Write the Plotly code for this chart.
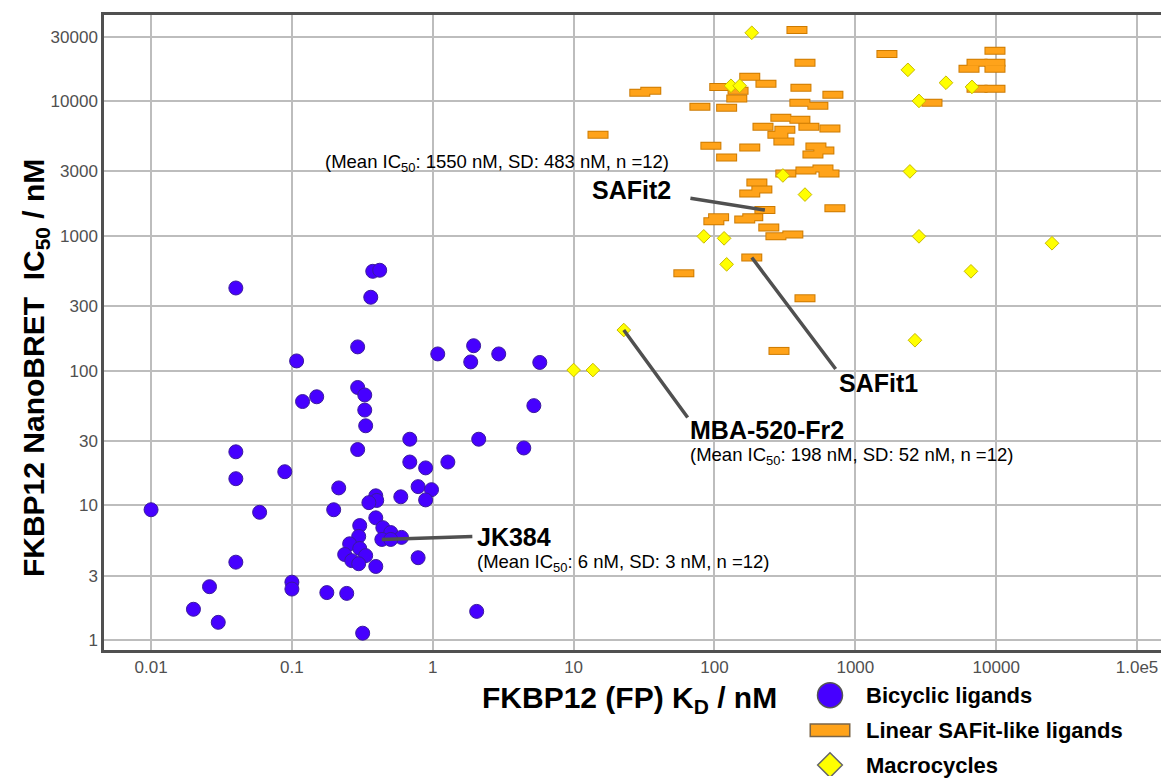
import numpy as np
import plotly.graph_objects as go

# ---------------- data ----------------
bicyclic_kd = [0.010, 0.040, 0.040, 0.040, 0.040, 0.026, 0.020, 0.030, 0.059, 0.089,
               0.100, 0.100, 0.108, 0.119, 0.150, 0.198, 0.215, 0.177, 0.245, 0.293,
               0.293, 0.329, 0.329, 0.334, 0.293, 0.318, 0.363, 0.375, 0.420, 0.687,
               2.12, 0.687, 0.89, 1.28, 0.787, 0.98, 0.89, 0.593, 0.394, 0.40,
               0.352, 0.394, 0.303, 0.442, 0.503, 0.60, 0.435, 0.503, 0.298, 0.257,
               0.303, 0.237, 0.334, 0.266, 0.298, 0.394, 0.787, 2.05, 1.085, 1.95,
               1.86, 2.94, 5.75, 5.22, 4.43]
bicyclic_ic50 = [9.3, 410, 25, 15.8, 3.8, 2.5, 1.7, 1.36, 8.9, 17.8,
                 2.7, 2.4, 118, 59, 64, 9.3, 13.5, 2.26, 2.23, 150,
                 75, 66, 51, 39, 26, 1.13, 350, 545, 555, 31,
                 31, 21, 19, 21, 13.8, 13.1, 11, 11.6, 11.8, 10.9,
                 10.5, 8.1, 7.1, 6.85, 6.3, 5.8, 5.6, 5.6, 5.9, 5.2,
                 4.8, 4.33, 4.25, 3.9, 3.7, 3.53, 4.1, 1.64, 133, 153,
                 116, 133, 115, 55, 26.7]

linear_kd = [385, 439, 178, 232, 109, 35.3, 29.5, 147, 144, 411,
             693, 78.8, 122, 404, 542, 14.9, 296, 404, 221, 316,
             468, 660, 282, 311, 94.3, 178, 525, 598, 500, 122,
             321, 446, 589, 650, 200, 217, 178, 228, 716, 107,
             99, 187, 164, 243, 273, 360, 184, 60.6, 439, 287,
             1676, 9800, 7310, 9800, 6410, 9800, 7310, 9800, 3500]
linear_ic50 = [33600, 19200, 15100, 13400, 12700, 11900, 11500, 11900, 10400, 12500,
               11100, 9060, 8910, 9700, 9210, 5620, 7510, 7260, 6440, 6120,
               6440, 6230, 5620, 4990, 4660, 4510, 4590, 4280, 4000, 3800,
               2900, 3050, 3150, 2900, 2480, 2200, 2060, 1550, 1600, 1370,
               1280, 1370, 1320, 1150, 990, 1020, 690, 527, 344, 140,
               22300, 23500, 19200, 19200, 17300, 17300, 12300, 12300, 9700]

macro_kd = [184, 131, 151, 306, 439, 84, 117, 122, 22.7, 10,
            13.7, 2360, 4400, 6730, 2830, 2440, 2830, 24900, 6620, 2650]
macro_ic50 = [32000, 12950, 12950, 2800, 2020, 990, 957, 614, 200, 101,
              101, 17000, 13640, 12700, 10000, 3000, 990, 880, 545, 168]

series_names = ["Bicyclic ligands", "Linear SAFit-like ligands", "Macrocycles"]

x_tickvals = [0.01, 0.1, 1, 10, 100, 1000, 10000, 100000]
x_ticktext = ["0.01", "0.1", "1", "10", "100", "1000", "10000", "1.0e5"]
y_tickvals = [1, 3, 10, 30, 100, 300, 1000, 3000, 10000, 30000]
y_ticktext = ["1", "3", "10", "30", "100", "300", "1000", "3000", "10000", "30000"]

# highlighted compounds
hl_names = ["SAFit2", "SAFit1", "MBA-520-Fr2", "JK384"]
hl_series = ["linear", "linear", "macro", "bicyclic"]
hl_index = [37, 46, 8, 46]
mean_names = ["SAFit2", "MBA-520-Fr2", "JK384"]
mean_ic50 = [1550, 198, 6]
mean_sd = [483, 52, 3]
mean_n = [12, 12, 12]

# ---------------- style ----------------
FONT = "Liberation Sans, Arial, sans-serif"
BLUE, BLUE_EDGE = "#4600ff", "#3b1a9e"
ORANGE, ORANGE_EDGE = "#ffa31a", "#cc7a00"
YELLOW, YELLOW_EDGE = "#ffff00", "#c8b900"
AXIS = "#505050"
GRID = "#bdbdbd"

W, H = 1161, 778
ML, MR, MT, MB = 104, 0, 15, 0


def pxx(p):
    return (p - ML) / (W - ML - MR)


def pxy(p):
    return (H - MB - p) / (H - MT - MB)


fig = go.Figure()

# data traces
fig.add_trace(go.Scatter(
    x=bicyclic_kd, y=bicyclic_ic50, mode="markers", name=series_names[0],
    marker=dict(symbol="circle", size=14, color=BLUE, line=dict(color=BLUE_EDGE, width=1)),
    showlegend=False))
fig.add_trace(go.Scatter(
    x=linear_kd, y=linear_ic50, mode="markers", name=series_names[1],
    marker=dict(symbol="line-ew", size=15, color=ORANGE_EDGE, line=dict(color=ORANGE_EDGE, width=8)),
    showlegend=False, hoverinfo="skip"))
fig.add_trace(go.Scatter(
    x=linear_kd, y=linear_ic50, mode="markers", name=series_names[1],
    marker=dict(symbol="line-ew", size=13.6, color=ORANGE, line=dict(color=ORANGE, width=6)),
    showlegend=False))
fig.add_trace(go.Scatter(
    x=macro_kd, y=macro_ic50, mode="markers", name=series_names[2],
    marker=dict(symbol="diamond", size=10.5, color=YELLOW, line=dict(color=YELLOW_EDGE, width=1)),
    showlegend=False))

# legend keys (drawn on a small helper axis below the plot)
fig.add_trace(go.Scatter(
    x=["key"], y=[series_names[0]], xaxis="x2", yaxis="y2", mode="markers",
    marker=dict(symbol="circle", size=25, color=BLUE, line=dict(color="#555555", width=1.5)),
    showlegend=False, hoverinfo="skip"))
fig.add_trace(go.Scatter(
    x=["key"], y=[series_names[1]], xaxis="x2", yaxis="y2", mode="markers",
    marker=dict(symbol="line-ew", size=29.3, color="#7a6548", line=dict(color="#7a6548", width=14)),
    showlegend=False, hoverinfo="skip"))
fig.add_trace(go.Scatter(
    x=["key"], y=[series_names[1]], xaxis="x2", yaxis="y2", mode="markers",
    marker=dict(symbol="line-ew", size=27.1, color=ORANGE, line=dict(color=ORANGE, width=11)),
    showlegend=False, hoverinfo="skip"))
fig.add_trace(go.Scatter(
    x=["key"], y=[series_names[2]], xaxis="x2", yaxis="y2", mode="markers",
    marker=dict(symbol="diamond", size=19, color=YELLOW, line=dict(color="#666666", width=1.5)),
    showlegend=False, hoverinfo="skip"))

annotations = []
# axis titles
annotations.append(dict(
    text="<b>FKBP12 NanoBRET\u00a0\u00a0IC<sub>50</sub> / nM</b>", xref="paper", yref="paper",
    x=pxx(35), y=pxy(369), xanchor="center", yanchor="middle", textangle=-90,
    showarrow=False, font=dict(size=30, color="#000000", family=FONT)))
annotations.append(dict(
    text="<b>FKBP12 (FP) K<sub>D</sub> / nM</b>", xref="paper", yref="paper",
    x=pxx(629), y=pxy(701), xanchor="center", yanchor="middle",
    showarrow=False, font=dict(size=30, color="#000000", family=FONT)))

series_data = {"linear": (linear_kd, linear_ic50), "macro": (macro_kd, macro_ic50),
               "bicyclic": (bicyclic_kd, bicyclic_ic50)}
# pointer line offsets (pixels from point to line end, screen y down) and label positions (pixels)
line_offsets = {"SAFit2": (-76, -12), "SAFit1": (85, 113), "MBA-520-Fr2": (65, 89), "JK384": (92, -3)}
label_pos = {"SAFit2": (673, 190, "right"), "SAFit1": (837, 384, "left"),
             "MBA-520-Fr2": (688, 431, "left"), "JK384": (475, 538, "left")}
mean_pos = {"SAFit2": (323, 163), "MBA-520-Fr2": (688, 457), "JK384": (475, 564)}

for name, ser, idx in zip(hl_names, hl_series, hl_index):
    xs, ys = series_data[ser]
    dx, dy = line_offsets[name]
    annotations.append(dict(
        x=np.log10(xs[idx]), y=np.log10(ys[idx]), xref="x", yref="y", text="",
        showarrow=True, arrowhead=0, arrowwidth=3.5, arrowcolor=AXIS,
        ax=dx, ay=dy, standoff=0, startstandoff=0))
    lx, ly, anc = label_pos[name]
    annotations.append(dict(
        text=f"<b>{name}</b>", xref="paper", yref="paper", x=pxx(lx), y=pxy(ly),
        xanchor=anc, yanchor="middle", showarrow=False,
        font=dict(size=25, color="#000000", family=FONT)))

for name, m, sd, n in zip(mean_names, mean_ic50, mean_sd, mean_n):
    mx, my = mean_pos[name]
    annotations.append(dict(
        text=f"(Mean IC<sub>50</sub>: {m} nM, SD: {sd} nM, n ={n})", xref="paper", yref="paper",
        x=pxx(mx), y=pxy(my), xanchor="left", yanchor="middle", showarrow=False,
        font=dict(size=18.5, color="#000000", family=FONT)))

fig.update_layout(
    width=W, height=H,
    margin=dict(l=ML, r=MR, t=MT, b=MB, pad=0),
    paper_bgcolor="white", plot_bgcolor="white",
    font=dict(family=FONT),
    showlegend=False,
    xaxis=dict(type="log", range=[-2.334, 5.170], domain=[0, 1], anchor="y",
               tickvals=x_tickvals, ticktext=x_ticktext, ticks="",
               tickfont=dict(size=17, color=AXIS, family=FONT), ticklabelstandoff=0,
               showgrid=True, gridcolor=GRID, gridwidth=1.5,
               showline=True, linecolor=AXIS, linewidth=2.5, mirror=True, zeroline=False),
    yaxis=dict(type="log", range=[-0.074, 4.637], domain=[pxy(652), 1], anchor="x",
               tickvals=y_tickvals, ticktext=y_ticktext, ticks="",
               tickfont=dict(size=17, color=AXIS, family=FONT), ticklabelstandoff=0,
               showgrid=True, gridcolor=GRID, gridwidth=1.5,
               showline=True, linecolor=AXIS, linewidth=2.5, mirror=False, zeroline=False),
    xaxis2=dict(type="category", domain=[pxx(805), pxx(855)], anchor="y2", range=[-0.5, 0.5],
                visible=False, fixedrange=True),
    yaxis2=dict(type="category", domain=[0, pxy(680)], anchor="x2", side="right",
                categoryorder="array", categoryarray=series_names,
                range=[2.314, -0.486], showgrid=False, zeroline=False, showline=False,
                ticks="", ticklabelstandoff=10, fixedrange=True,
                tickfont=dict(size=22, color="#000000", family=FONT, weight="bold")),
    annotations=annotations,
)

fig.write_html("out.html", config={"displayModeBar": False},
               post_script="document.body.style.margin='0';")
